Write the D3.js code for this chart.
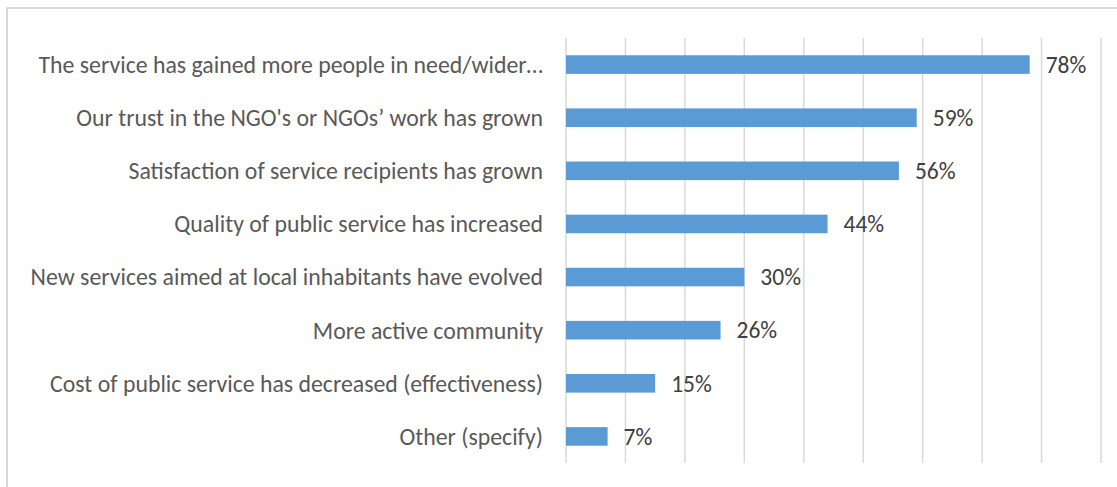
<!DOCTYPE html>
<html>
<head>
<meta charset="utf-8">
<script src="https://cdn.jsdelivr.net/npm/d3@7"></script>
<style>
  body { margin: 0; background: #fff; }
  #chart { width: 1117px; height: 487px; }
  text { font-family: Calibri, Carlito, Lato, sans-serif; }
</style>
</head>
<body>
<div id="chart"></div>
<script>
// categories, top to bottom
var categories = [
  "The service has gained more people in need/wider…",
  "Our trust in the NGO's or NGOs’ work has grown",
  "Satisfaction of service recipients has grown",
  "Quality of public service has increased",
  "New services aimed at local inhabitants have evolved",
  "More active community",
  "Cost of public service has decreased (effectiveness)",
  "Other (specify)"
];
var values = [78, 59, 56, 44, 30, 26, 15, 7];
var gridTicks = [0, 10, 20, 30, 40, 50, 60, 70, 80, 90];

var W = 1117, H = 487;
var margin = { top: 38, right: 16, bottom: 24, left: 566 };
var width = W - margin.left - margin.right,
    height = H - margin.top - margin.bottom;

var svg = d3.select("#chart")
  .append("svg")
  .attr("width", W)
  .attr("height", H);

// outer chart border (only top and left visible in frame)
svg.append("rect")
  .attr("x", 7).attr("y", 8)
  .attr("width", W + 20).attr("height", H + 20)
  .attr("fill", "none")
  .attr("stroke", "#d9d9d9")
  .attr("stroke-width", 2);

var g = svg.append("g")
  .attr("transform", "translate(" + margin.left + "," + margin.top + ")");

var x = d3.scaleLinear()
  .domain([0, 90])
  .range([0, width]);

var y = d3.scaleBand()
  .domain(categories)
  .range([0, height])
  .paddingInner(0.65)
  .paddingOuter(0.325);

// vertical gridlines
g.append("g")
  .selectAll("line")
  .data(gridTicks)
  .enter()
  .append("line")
  .attr("x1", function (d) { return x(d); })
  .attr("x2", function (d) { return x(d); })
  .attr("y1", 0)
  .attr("y2", height)
  .attr("stroke", "#d9d9d9")
  .attr("stroke-width", 1.5);

// category labels
var yAxis = g.append("g")
  .call(d3.axisLeft(y).tickSize(0).tickPadding(23));
yAxis.select(".domain").remove();
yAxis.selectAll("text")
  .attr("fill", "#595959")
  .style("font-size", "23.8px")
  .attr("dy", "0.35em");

// bars
g.append("g")
  .selectAll("rect")
  .data(values)
  .enter()
  .append("rect")
  .attr("x", x(0))
  .attr("y", function (d, i) { return y(categories[i]); })
  .attr("width", function (d) { return x(d) - x(0); })
  .attr("height", y.bandwidth())
  .attr("fill", "#5b9bd5");

// value labels
g.append("g")
  .selectAll("text")
  .data(values)
  .enter()
  .append("text")
  .attr("x", function (d) { return x(d) + 16; })
  .attr("y", function (d, i) { return y(categories[i]) + y.bandwidth() / 2; })
  .attr("dy", "0.35em")
  .attr("fill", "#404040")
  .style("font-size", "23.5px")
  .text(function (d) { return d + "%"; });
</script>
</body>
</html>
